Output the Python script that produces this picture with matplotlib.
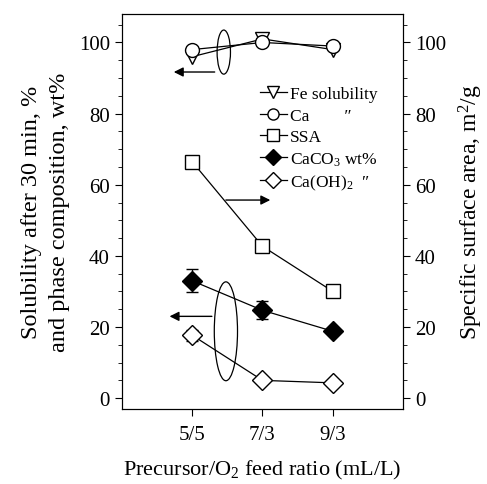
import numpy as np
import matplotlib
matplotlib.use('Agg')
import matplotlib.pyplot as plt
from matplotlib.patches import Ellipse
from matplotlib.lines import Line2D
from matplotlib.ticker import MultipleLocator

plt.rcParams['font.family'] = 'Liberation Serif'
plt.rcParams['mathtext.fontset'] = 'custom'
plt.rcParams['mathtext.rm'] = 'Liberation Serif'
plt.rcParams['mathtext.it'] = 'Liberation Serif:italic'

# Feed ratios
ratios = ['5/5', '7/3', '9/3']
x = np.array([1, 2, 3])

# Solubility after 30 min (%)
fe_sol = [96, 101, 98]
ca_sol = [98, 100, 99]

# Phase composition (wt%) and error bars
caco3 = [33, 24.7, 18.8]
caco3_err = [3.2, 2.5, 0]
caoh2 = [17.7, 5.0, 4.3]
caoh2_err = [1.5, 0, 0]

# Specific surface area (m2/g), right axis
ssa = [66.5, 42.7, 30.0]
ssa_err = [0, 1.0, 1.2]

fig, ax = plt.subplots(figsize=(4.87, 4.85), dpi=100)
fig.subplots_adjust(left=0.25, right=0.828, top=0.969, bottom=0.155)
ax2 = ax.twinx()

mk = dict(color='black', linewidth=0.9, markersize=10, markeredgewidth=1.0)
ax.plot(x, fe_sol, marker='v', markerfacecolor='white', **mk)
ax.plot(x, ca_sol, marker='o', markerfacecolor='white', **mk)
ax.errorbar(x, caco3, yerr=caco3_err, marker='D', markerfacecolor='black', capsize=4, **mk)
ax.errorbar(x, caoh2, yerr=caoh2_err, marker='D', markerfacecolor='white', capsize=4, **mk)
ax2.errorbar(x, ssa, yerr=ssa_err, marker='s', markerfacecolor='white', capsize=4, **mk)

for a in (ax, ax2):
    a.set_ylim(-3, 108)
    a.yaxis.set_major_locator(MultipleLocator(20))
    a.yaxis.set_minor_locator(MultipleLocator(5))
    a.tick_params(axis='y', which='both', direction='out', labelsize=15)
    a.tick_params(axis='y', which='major', length=5)
    a.tick_params(axis='y', which='minor', length=3)
ax.set_xlim(0, 4)
ax.set_xticks(x)
ax.set_xticklabels(ratios)
ax.tick_params(axis='x', direction='out', length=5, labelsize=15, pad=7)

ax.set_xlabel('Precursor/O$_2$ feed ratio (mL/L)', fontsize=16, labelpad=10)
ax.set_ylabel('Solubility after 30 min, %\nand phase composition, wt%', fontsize=17.5,
              labelpad=6, linespacing=1.45)
ax2.set_ylabel('Specific surface area, m$^2$/g', fontsize=17, labelpad=8)

# Grouping ellipses and arrows pointing to the relevant axis
ax.add_patch(Ellipse((1.45, 97.3), 0.19, 12.4, fill=False, edgecolor='black', linewidth=0.9))
ax.add_patch(Ellipse((1.48, 18.8), 0.33, 27.8, fill=False, edgecolor='black', linewidth=0.9))
arrow = dict(arrowstyle='-|>', color='black', linewidth=1.0, mutation_scale=14)
ax.annotate('', xy=(0.7, 91.7), xytext=(1.36, 91.7), arrowprops=arrow)
ax.annotate('', xy=(0.64, 23), xytext=(1.32, 23), arrowprops=arrow)
ax.annotate('', xy=(2.15, 55.7), xytext=(1.44, 55.7), arrowprops=arrow)

lg = dict(color='black', linewidth=0.9, markersize=8, markeredgewidth=1.0)
handles = [
    Line2D([], [], marker='v', markerfacecolor='white', **lg),
    Line2D([], [], marker='o', markerfacecolor='white', **lg),
    Line2D([], [], marker='s', markerfacecolor='white', **lg),
    Line2D([], [], marker='D', markerfacecolor='black', **lg),
    Line2D([], [], marker='D', markerfacecolor='white', **lg),
]
labels = ['Fe solubility', 'Ca        \u2033', 'SSA', 'CaCO$_3$ wt%', 'Ca(OH)$_2$  \u2033']
ax.legend(handles, labels, loc='upper left', bbox_to_anchor=(0.465, 0.835), frameon=False,
          fontsize=12.5, handlelength=1.6, handletextpad=0.15, labelspacing=0.3,
          borderaxespad=0)

fig.savefig('out.png', dpi=100)
